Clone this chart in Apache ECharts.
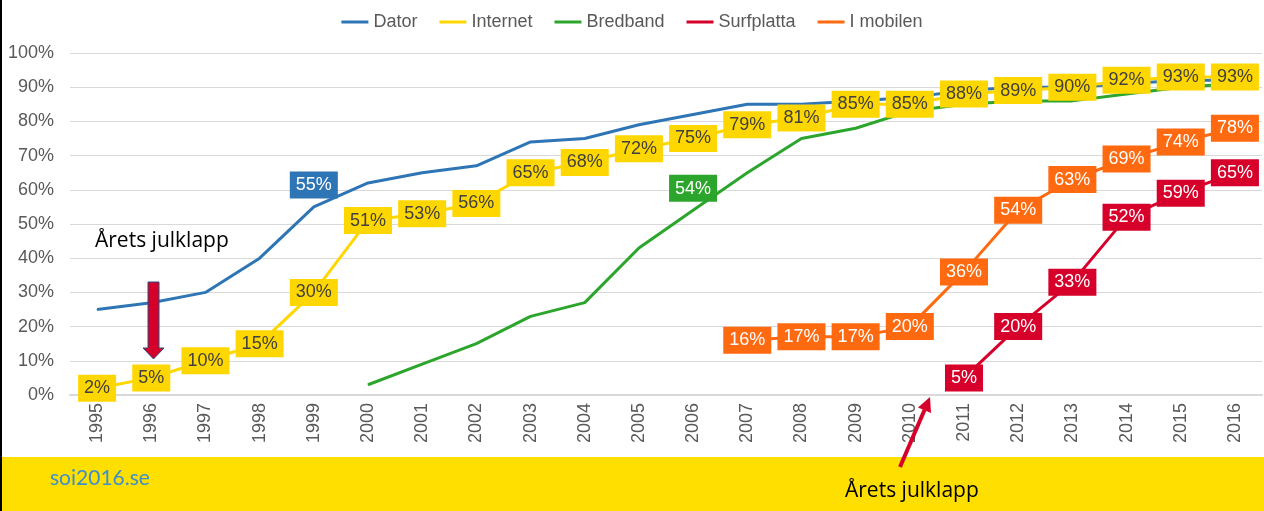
<!DOCTYPE html>
<html>
<head>
<meta charset="utf-8">
<script src="https://cdn.jsdelivr.net/npm/echarts@6/dist/echarts.min.js"></script>
<style>
html, body { margin: 0; padding: 0; background: #fff; }
#chart { width: 1264px; height: 511px; }
</style>
</head>
<body>
<div id="chart"></div>
<script>
var years = ['1995', '1996', '1997', '1998', '1999', '2000', '2001', '2002', '2003', '2004', '2005',
	'2006', '2007', '2008', '2009', '2010', '2011', '2012', '2013', '2014', '2015', '2016'];
var dator = [25, 27, 30, 40, 55, 62, 65, 67, 74, 75, 79, 82, 85, 85, 86, 87, 89, 90, 90, 91, 92, 92];
var internet = [2, 5, 10, 15, 30, 51, 53, 56, 65, 68, 72, 75, 79, 81, 85, 85, 88, 89, 90, 92, 93, 93];
var bredband = [null, null, null, null, null, 3, 9, 15, 23, 27, 43, 54, 65, 75, 78, 83, 85, 86, 86, 88, 90, 91];
var surfplatta = [null, null, null, null, null, null, null, null, null, null, null,
	null, null, null, null, null, 5, 20, 33, 52, 59, 65];
var mobilen = [null, null, null, null, null, null, null, null, null, null, null,
	null, 16, 17, 17, 20, 36, 54, 63, 69, 74, 78];
var datorLabelAt = [4];     // 1999
var bredbandLabelAt = [11]; // 2006
var yTicks = [0, 10, 20, 30, 40, 50, 60, 70, 80, 90, 100];

var chart = echarts.init(document.getElementById('chart'));

function boxLabel(bg, fg, pos) {
	return {
		show: true,
		position: pos,
		distance: 8,
		formatter: '{c}%',
		backgroundColor: bg,
		color: fg,
		fontFamily: 'Liberation Sans, Arial',
		fontSize: 18,
		lineHeight: 20,
		padding: [4, 6, 3, 6]
	};
}

// only some points of a series get a label
function pickLabels(values, idx, label) {
	return values.map(function (v, i) {
		if (idx.indexOf(i) >= 0) {
			return { value: v, label: label };
		}
		return v;
	});
}

function lineSeries(name, color, data, label) {
	return {
		name: name,
		type: 'line',
		data: data,
		symbol: 'circle',
		symbolSize: 1,
		connectNulls: false,
		lineStyle: { color: color, width: 3 },
		itemStyle: { color: color },
		label: label || { show: false },
		emphasis: { disabled: true }
	};
}

var option = {
	backgroundColor: '#fff',
	animation: false,
	color: ['#2E75B6', '#FFD700', '#2CA52C', '#D6002A', '#FF690F'],
	legend: {
		top: 8,
		left: 'center',
		itemWidth: 27,
		itemHeight: 3,
		itemGap: 22,
		icon: 'rect',
		textStyle: { color: '#595959', fontSize: 18, fontFamily: 'Liberation Sans, Arial' },
		data: ['Dator', 'Internet', 'Bredband', 'Surfplatta', 'I mobilen']
	},
	grid: {
		left: 70,
		right: 2,
		top: 53,
		bottom: 116
	},
	xAxis: {
		type: 'category',
		data: years,
		boundaryGap: true,
		axisLine: { lineStyle: { color: '#D9D9D9', width: 2 } },
		axisTick: { show: false },
		axisLabel: {
			rotate: 90,
			margin: 8,
			color: '#595959',
			fontSize: 18,
			fontFamily: 'Liberation Sans, Arial'
		},
		splitLine: { show: false }
	},
	yAxis: {
		type: 'value',
		min: yTicks[0],
		max: yTicks[yTicks.length - 1],
		interval: 10,
		axisLine: { show: false },
		axisTick: { show: false },
		axisLabel: {
			formatter: '{value}%',
			margin: 16,
			color: '#595959',
			fontSize: 18,
			fontFamily: 'Liberation Sans, Arial'
		},
		splitLine: { lineStyle: { color: '#D9D9D9', width: 1 } }
	},
	series: [
		lineSeries('Dator', '#2E75B6', pickLabels(dator, datorLabelAt, boxLabel('#2E75B6', '#fff', 'top'))),
		lineSeries('Internet', '#FFD700', internet, boxLabel('#FFD700', '#404040', 'inside')),
		lineSeries('Bredband', '#2CA52C', pickLabels(bredband, bredbandLabelAt, boxLabel('#2CA52C', '#fff', 'top'))),
		lineSeries('Surfplatta', '#D6002A', surfplatta, boxLabel('#D6002A', '#fff', 'inside')),
		lineSeries('I mobilen', '#FF690F', mobilen, boxLabel('#FF690F', '#fff', 'inside'))
	],
	graphic: [
		{ type: 'rect', left: 0, top: 457, z: -10, shape: { width: 1264, height: 54 }, style: { fill: '#FFDF00' } },
		{ type: 'rect', left: 0, top: 0, z: 100, shape: { width: 2, height: 511 }, style: { fill: '#000' } },
		{
			type: 'text', left: 50, top: 468, z: 100,
			style: { text: 'soi2016.se', fill: '#3E8FCB', font: '21px Lato, sans-serif' }
		},
		{
			type: 'text', left: 95, top: 231, z: 100,
			style: { text: 'Årets julklapp', fill: '#000', font: '21px "Open Sans", sans-serif' }
		},
		{
			type: 'text', left: 845, top: 481, z: 100,
			style: { text: 'Årets julklapp', fill: '#000', font: '21px "Open Sans", sans-serif' }
		},
		{
			type: 'polygon', z: 100,
			shape: { points: [[148, 282], [159, 282], [159, 348], [164, 348], [153.5, 359], [143, 348], [148, 348]] },
			style: { fill: '#D4002A', stroke: '#2F4A7A', lineWidth: 1 }
		},
		{
			type: 'line', z: 100,
			shape: { x1: 900, y1: 467, x2: 924.5, y2: 410 },
			style: { stroke: '#D6002A', lineWidth: 4 }
		},
		{
			type: 'polygon', z: 100,
			shape: { points: [[930, 397], [931, 413], [918, 407.5]] },
			style: { fill: '#D6002A' }
		}
	]
};

chart.setOption(option);

window.onresize = function () {
	chart.resize();
};
</script>
</body>
</html>
